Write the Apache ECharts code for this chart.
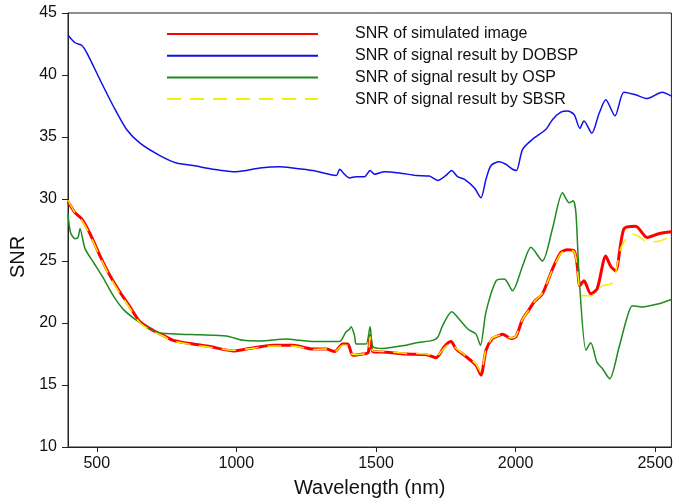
<!DOCTYPE html>
<html>
<head>
<meta charset="utf-8">
<script src="https://cdn.jsdelivr.net/npm/echarts@6/dist/echarts.min.js"></script>
<style>
  html, body { margin: 0; padding: 0; background: #fff; }
  #chart { width: 676px; height: 503px; }
</style>
</head>
<body>
<div id="chart"></div>
<script>
// tick labels on the wavelength axis
const xTicks = [500, 1000, 1500, 2000, 2500];

// SNR of simulated image (red)
const simNm = [397, 422, 446, 476, 512, 548, 583, 619, 655, 702, 738, 774, 845, 905, 988, 1036, 1131, 1203, 1274, 1322, 1352, 1381, 1399, 1417, 1453, 1472, 1479, 1489, 1536, 1608, 1679, 1715, 1745, 1769, 1787, 1822, 1858, 1876, 1894, 1917, 1941, 1953, 1983, 2001, 2025, 2049, 2066, 2096, 2132, 2162, 2186, 2210, 2221, 2230, 2245, 2269, 2292, 2323, 2340, 2358, 2388, 2430, 2471, 2513, 2558];
const simSnr = [29.8, 28.9, 28.4, 27.2, 25.4, 23.8, 22.5, 21.3, 20.1, 19.4, 19.0, 18.6, 18.3, 18.1, 17.75, 17.9, 18.2, 18.2, 17.9, 17.9, 17.7, 18.3, 18.3, 17.4, 17.5, 17.6, 19.0, 17.7, 17.65, 17.5, 17.45, 17.2, 18.1, 18.5, 17.9, 17.3, 16.6, 15.8, 17.8, 18.75, 19.0, 19.1, 18.75, 18.9, 20.3, 21.1, 21.7, 22.35, 24.35, 25.7, 25.9, 25.8, 24.6, 23.0, 23.4, 22.35, 22.75, 25.4, 24.6, 24.2, 27.6, 27.8, 26.9, 27.2, 27.35];

// SNR of signal result by DOBSP (blue)
const dobspNm = [397, 422, 446, 464, 512, 559, 607, 655, 726, 786, 845, 917, 988, 1036, 1084, 1155, 1203, 1274, 1358, 1370, 1387, 1405, 1429, 1459, 1479, 1495, 1530, 1584, 1644, 1691, 1721, 1751, 1771, 1792, 1816, 1852, 1876, 1894, 1912, 1941, 1965, 1989, 2003, 2025, 2060, 2108, 2132, 2162, 2186, 2210, 2230, 2245, 2273, 2299, 2323, 2356, 2388, 2430, 2471, 2525, 2558];
const dobspSnr = [43.2, 42.6, 42.4, 41.8, 39.6, 37.5, 35.6, 34.5, 33.5, 32.9, 32.7, 32.4, 32.2, 32.3, 32.5, 32.6, 32.5, 32.3, 31.9, 32.4, 32.0, 31.7, 31.8, 31.8, 32.3, 32.0, 32.2, 32.1, 31.9, 31.85, 31.5, 31.9, 32.3, 31.8, 31.6, 30.9, 30.1, 31.6, 32.7, 33.0, 32.8, 32.4, 32.3, 34.0, 34.8, 35.6, 36.4, 37.0, 37.1, 36.8, 35.7, 36.3, 35.3, 36.9, 38.0, 36.7, 38.6, 38.4, 38.1, 38.6, 38.3];

// SNR of signal result by OSP (green)
const ospNm = [397, 406, 422, 433, 440, 458, 488, 524, 559, 595, 643, 690, 726, 798, 869, 964, 1024, 1084, 1179, 1227, 1274, 1346, 1370, 1393, 1405, 1411, 1423, 1429, 1447, 1465, 1479, 1489, 1524, 1560, 1608, 1644, 1703, 1721, 1739, 1771, 1802, 1830, 1858, 1874, 1894, 1930, 1960, 1989, 2025, 2055, 2096, 2132, 2168, 2192, 2206, 2216, 2228, 2252, 2269, 2292, 2310, 2337, 2370, 2400, 2418, 2453, 2513, 2558];
const ospSnr = [28.8, 27.3, 26.8, 26.9, 27.6, 26.0, 24.9, 23.6, 22.2, 21.1, 20.2, 19.5, 19.2, 19.1, 19.05, 18.95, 18.6, 18.55, 18.7, 18.6, 18.5, 18.5, 18.5, 19.3, 19.5, 19.7, 19.0, 18.3, 18.3, 18.3, 19.7, 18.1, 17.95, 18.05, 18.2, 18.4, 18.6, 18.85, 19.8, 20.9, 20.2, 19.5, 19.1, 18.2, 20.9, 23.4, 23.55, 22.6, 24.6, 26.1, 25.0, 27.6, 30.5, 29.7, 29.85, 28.9, 23.55, 17.8, 18.4, 16.8, 16.35, 15.5, 18.0, 20.5, 21.4, 21.3, 21.55, 21.9];

// SNR of signal result by SBSR (yellow, dashed)
const sbsrNm = [397, 422, 446, 476, 512, 548, 583, 619, 655, 702, 738, 774, 845, 905, 988, 1036, 1131, 1203, 1274, 1322, 1352, 1381, 1399, 1417, 1453, 1472, 1479, 1489, 1536, 1608, 1679, 1715, 1745, 1769, 1787, 1822, 1858, 1876, 1894, 1917, 1941, 1953, 1983, 2001, 2025, 2049, 2066, 2096, 2132, 2162, 2186, 2210, 2221, 2230, 2240, 2270, 2292, 2310, 2345, 2358, 2378, 2415, 2440, 2471, 2513, 2558];
const sbsrSnr = [29.9, 28.9, 28.3, 27.1, 25.3, 23.7, 22.4, 21.2, 20.0, 19.3, 18.95, 18.55, 18.25, 18.05, 17.8, 17.9, 18.15, 18.15, 17.85, 17.9, 17.7, 18.2, 18.2, 17.45, 17.5, 17.6, 18.9, 17.75, 17.7, 17.55, 17.5, 17.3, 18.0, 18.4, 17.95, 17.35, 16.7, 16.0, 17.9, 18.8, 19.0, 19.1, 18.8, 18.95, 20.3, 21.1, 21.7, 22.4, 24.3, 25.6, 25.9, 25.75, 24.4, 22.6, 22.2, 22.2, 22.5, 23.0, 23.2, 24.0, 26.1, 27.2, 27.0, 26.55, 26.6, 26.95];

const legendNames = [
    'SNR of simulated image',
    'SNR of signal result by DOBSP',
    'SNR of signal result by OSP',
    'SNR of signal result by SBSR'
];

function pairs(xs, ys) {
    return xs.map((x, i) => [x, ys[i]]);
}

function lineSeries(name, xs, ys, color, width, type) {
    return {
        name: name,
        type: 'line',
        data: pairs(xs, ys),
        symbol: 'none',
        smooth: 0.25,
        lineStyle: { color: color, width: width, type: type || 'solid' },
        itemStyle: { color: color }
    };
}

const chart = echarts.init(document.getElementById('chart'));
const font = 'Liberation Sans, Arial, Helvetica, sans-serif';

chart.setOption({
    animation: false,
    backgroundColor: '#fff',
    grid: {
        left: 68, right: 3, top: 13, bottom: 54,
        show: true, borderColor: '#222', borderWidth: 1
    },
    legend: {
        orient: 'vertical',
        left: 161, top: 21,
        itemWidth: 151, itemHeight: 16, itemGap: 5.7,
        data: legendNames,
        // hide the circle that line series put in the middle of the legend icon
        itemStyle: { opacity: 0 },
        textStyle: { fontFamily: font, fontSize: 16, color: '#111', padding: [0, 0, 0, 32] }
    },
    xAxis: {
        type: 'value',
        min: 397, max: 2558,
        name: 'Wavelength (nm)',
        nameLocation: 'middle',
        nameGap: 31,
        nameTextStyle: { fontFamily: font, fontSize: 20, color: '#111' },
        axisLine: { lineStyle: { color: '#222', width: 1 } },
        axisTick: { length: 5, customValues: xTicks, lineStyle: { color: '#222' } },
        axisLabel: {
            customValues: xTicks,
            formatter: v => String(v),
            fontFamily: font, fontSize: 16, color: '#111', margin: 9
        },
        splitLine: { show: false }
    },
    yAxis: {
        type: 'value',
        min: 10, max: 45, interval: 5,
        name: 'SNR',
        nameLocation: 'middle',
        nameGap: 37,
        nameRotate: 90,
        nameTextStyle: { fontFamily: font, fontSize: 20, color: '#111', padding: [0, 54, 0, 0] },
        axisLine: { lineStyle: { color: '#222', width: 1 } },
        axisTick: { length: 6, lineStyle: { color: '#222' } },
        axisLabel: { fontFamily: font, fontSize: 16, color: '#111', margin: 11 },
        splitLine: { show: false }
    },
    series: [
        lineSeries(legendNames[0], simNm, simSnr, '#ff0000', 3),
        lineSeries(legendNames[1], dobspNm, dobspSnr, '#1010e8', 1.5),
        lineSeries(legendNames[2], ospNm, ospSnr, '#1f8a1f', 1.5),
        lineSeries(legendNames[3], sbsrNm, sbsrSnr, '#f5ee00', 1.5, [14, 9])
    ]
});
</script>
</body>
</html>
